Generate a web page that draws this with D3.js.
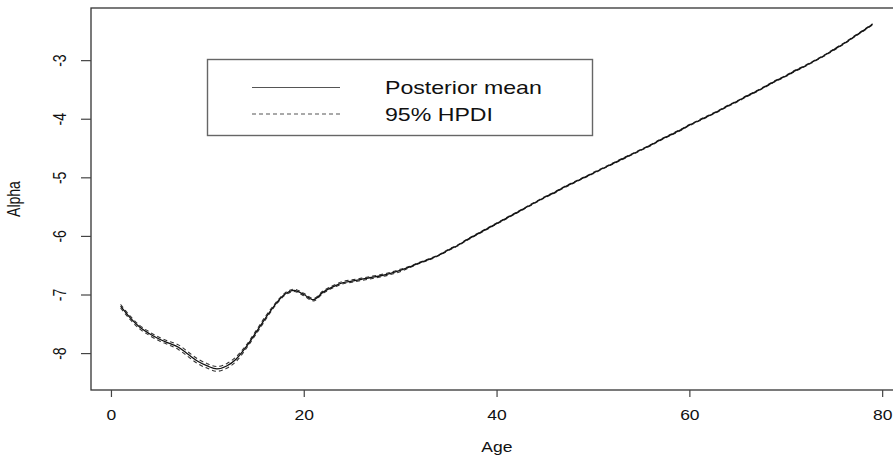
<!DOCTYPE html>
<html>
<head>
<meta charset="utf-8">
<script src="https://cdn.jsdelivr.net/npm/d3@7"></script>
<style>
  html, body { margin: 0; padding: 0; background: #fff; }
  svg { display: block; }
  text { font-family: "Liberation Sans", Arial, sans-serif; fill: #111; }
</style>
</head>
<body>
<svg id="chart" width="893" height="461"></svg>
<script>
// Posterior mean of alpha by age, with 95% HPDI bounds
const ages = d3.range(1, 80);
const meanAlpha = [
  -7.20, -7.40, -7.56, -7.67, -7.76, -7.83, -7.90, -8.02, -8.14, -8.22,
  -8.27, -8.22, -8.10, -7.90, -7.66, -7.41, -7.18, -7.00, -6.93, -7.00,
  -7.09, -6.96, -6.87, -6.80, -6.77, -6.74, -6.71, -6.68, -6.64, -6.59,
  -6.53, -6.46, -6.40, -6.33, -6.24, -6.16, -6.06, -5.97, -5.88, -5.79,
  -5.70, -5.61, -5.52, -5.43, -5.34, -5.26, -5.17, -5.09, -5.01, -4.93,
  -4.85, -4.77, -4.69, -4.61, -4.53, -4.45, -4.36, -4.28, -4.20, -4.11,
  -4.03, -3.95, -3.87, -3.78, -3.70, -3.61, -3.53, -3.44, -3.35, -3.27,
  -3.18, -3.10, -3.01, -2.92, -2.82, -2.72, -2.61, -2.50, -2.39
];
const upperAlpha = [
  -7.17, -7.37, -7.53, -7.64, -7.73, -7.80, -7.86, -7.98, -8.10, -8.18,
  -8.23, -8.18, -8.06, -7.87, -7.63, -7.38, -7.16, -6.98, -6.91, -6.98,
  -7.07, -6.94, -6.85, -6.78, -6.75, -6.72, -6.69, -6.66, -6.62, -6.57,
  -6.52, -6.45, -6.39, -6.32, -6.23, -6.15, -6.05, -5.96, -5.87, -5.78,
  -5.69, -5.60, -5.51, -5.42, -5.33, -5.25, -5.16, -5.08, -5.00, -4.92,
  -4.84, -4.76, -4.68, -4.60, -4.52, -4.44, -4.35, -4.27, -4.19, -4.10,
  -4.02, -3.94, -3.86, -3.77, -3.69, -3.60, -3.52, -3.43, -3.34, -3.26,
  -3.17, -3.09, -3.00, -2.91, -2.81, -2.71, -2.60, -2.49, -2.38
];
const lowerAlpha = [
  -7.23, -7.43, -7.59, -7.70, -7.79, -7.86, -7.94, -8.06, -8.18, -8.26,
  -8.31, -8.26, -8.14, -7.93, -7.69, -7.44, -7.20, -7.02, -6.95, -7.02,
  -7.11, -6.98, -6.89, -6.82, -6.79, -6.76, -6.73, -6.70, -6.66, -6.61,
  -6.54, -6.47, -6.41, -6.34, -6.25, -6.17, -6.07, -5.98, -5.89, -5.80,
  -5.71, -5.62, -5.53, -5.44, -5.35, -5.27, -5.18, -5.10, -5.02, -4.94,
  -4.86, -4.78, -4.70, -4.62, -4.54, -4.46, -4.37, -4.29, -4.21, -4.12,
  -4.04, -3.96, -3.88, -3.79, -3.71, -3.62, -3.54, -3.45, -3.36, -3.28,
  -3.19, -3.11, -3.02, -2.93, -2.83, -2.73, -2.62, -2.51, -2.40
];
const xTicks = [0, 20, 40, 60, 80];
const yTicks = [-8, -7, -6, -5, -4, -3];
const legendLabels = ["Posterior mean", "95% HPDI"];

const svg = d3.select("#chart");
const box = { left: 91, top: 8, right: 902.6, bottom: 390 };
const textStretch = 1.25;

const x = d3.scaleLinear().domain([-2.07, 82.12]).range([box.left, box.right]);
const y = d3.scaleLinear().domain([-8.63, -2.11]).range([box.bottom, box.top]);

// plot frame
svg.append("rect")
  .attr("x", box.left).attr("y", box.top)
  .attr("width", box.right - box.left).attr("height", box.bottom - box.top)
  .attr("fill", "none").attr("stroke", "#333").attr("stroke-width", 1.3);

// x axis
const xAxis = svg.append("g").attr("transform", `translate(0,${box.bottom})`)
  .call(d3.axisBottom(x).tickValues(xTicks).tickSize(7).tickSizeOuter(0).tickFormat(d3.format("d")));
xAxis.select(".domain").remove();
xAxis.selectAll(".tick line").attr("stroke", "#444").attr("stroke-width", 1.2);
xAxis.selectAll(".tick text").remove();
xAxis.selectAll(".tick").append("text")
  .attr("transform", `translate(0,30) scale(${textStretch},1)`)
  .attr("text-anchor", "middle")
  .style("font-size", "14px")
  .text(d => d3.format("d")(d));

// y axis
const yAxis = svg.append("g").attr("transform", `translate(${box.left},0)`)
  .call(d3.axisLeft(y).tickValues(yTicks).tickSize(10).tickSizeOuter(0).tickFormat(d3.format("d")));
yAxis.select(".domain").remove();
yAxis.selectAll(".tick line").attr("stroke", "#444").attr("stroke-width", 1.2);
yAxis.selectAll(".tick text").remove();
yAxis.selectAll(".tick").append("text")
  .attr("transform", `translate(${66 - box.left},0) scale(${textStretch},1) rotate(-90)`)
  .attr("text-anchor", "middle")
  .style("font-size", "14px")
  .text(d => d3.format("d")(d).replace("\u2212", "-"));

// axis titles
svg.append("text")
  .attr("transform", `translate(${(box.left + box.right) / 2},452) scale(${textStretch},1)`)
  .attr("text-anchor", "middle").style("font-size", "14px").text("Age");
svg.append("text")
  .attr("transform", `translate(20,${(box.top + box.bottom) / 2}) scale(${textStretch},1) rotate(-90)`)
  .attr("text-anchor", "middle").style("font-size", "14px").text("Alpha");

// curves
const lineOf = vals => d3.line()
  .x((d, i) => x(ages[i]))
  .y(d => y(d))
  .curve(d3.curveMonotoneX)(vals);

const curves = svg.append("g");
[lowerAlpha, upperAlpha].forEach(vals => {
  curves.append("path").attr("d", lineOf(vals))
    .attr("fill", "none").attr("stroke", "#333").attr("stroke-width", 1.1)
    .attr("stroke-dasharray", "4,3");
});
curves.append("path").attr("d", lineOf(meanAlpha))
  .attr("fill", "none").attr("stroke", "#111").attr("stroke-width", 1.3);

// legend
const legend = svg.append("g");
legend.append("rect")
  .attr("x", 207.5).attr("y", 59.5).attr("width", 385).attr("height", 76)
  .attr("fill", "#fff").attr("stroke", "#666").attr("stroke-width", 1.4);
const legendY = [87.5, 114];
legendLabels.forEach((lab, i) => {
  legend.append("line")
    .attr("x1", 252).attr("x2", 340).attr("y1", legendY[i]).attr("y2", legendY[i])
    .attr("stroke", "#555").attr("stroke-width", 1.1)
    .attr("stroke-dasharray", i === 1 ? "4,3" : null);
  legend.append("text")
    .attr("transform", `translate(385,${legendY[i] + 6.5}) scale(${textStretch},1)`)
    .style("font-size", "18.5px").text(lab);
});
</script>
</body>
</html>
